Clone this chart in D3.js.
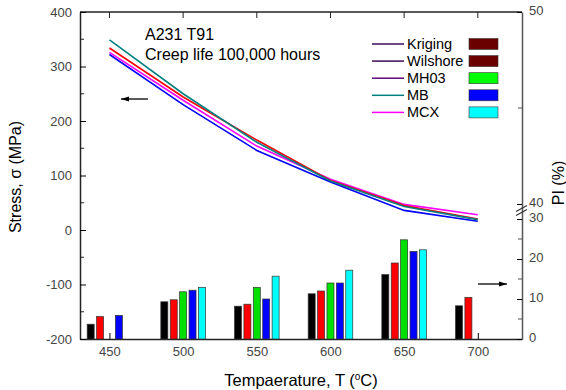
<!DOCTYPE html>
<html>
<head>
<meta charset="utf-8">
<script src="https://cdn.jsdelivr.net/npm/d3@7"></script>
<style>
  body { margin: 0; background: #fff; }
  svg { font-family: "Liberation Sans", Arial, sans-serif; }
  .tick text { fill: #444; font-size: 13px; }
</style>
</head>
<body>
<svg id="chart" width="566" height="390"></svg>
<script>
// temperatures (deg C)
const temps = [450, 500, 550, 600, 650, 700];

// stress lines, MPa (left axis)
const stressTeal = [349, 250, 161, 90, 43, 19];
const stressRed = [334, 244, 165, 91, 45, 20];
const stressMagenta = [326, 238, 154, 93, 47, 28];
const stressBlue = [322, 230, 146, 88, 36, 16];

// PI bars, % (right axis); null = no bar
const piBlack = [3.7, 9.3, 8.2, 11.3, 16.1, 8.3];
const piRed = [5.6, 9.8, 8.7, 12.0, 19.0, 10.4];
const piGreen = [null, 11.8, 12.9, 14.0, 24.8, null];
const piBlue = [5.9, 12.2, 10.0, 14.0, 21.9, null];
const piCyan = [null, 12.9, 15.7, 17.2, 22.3, null];

const legendNames = ["Kriging", "Wilshore", "MH03", "MB", "MCX"];
const legendLineColors = ["#3c0a5a", "#3c0a5a", "#5a0a78", "#008080", "#ff00ff"];
const legendFillColors = ["#6b0000", "#6b0000", "#00ff00", "#0000ff", "#00ffff"];

const leftTicks = [-200, -100, 0, 100, 200, 300, 400];
const rightTicks = [0, 10, 20, 30, 40, 50];

const svg = d3.select("#chart");

const x = d3.scaleLinear().domain([430, 730]).range([80, 522]);
const yL = d3.scaleLinear().domain([-200, 400]).range([339, 12]);
// broken right axis: 0-30 then 40-50
const yR = d3.scaleLinear().domain([0, 30, 40, 50]).range([339, 219, 204, 12]);

// frame
svg.append("line").attr("x1", 80).attr("x2", 522).attr("y1", 12).attr("y2", 12)
    .attr("stroke", "#222").attr("stroke-width", 1.5);

// bottom axis
const gx = svg.append("g")
    .attr("transform", "translate(0," + yL.range()[0] + ")")
    .call(d3.axisBottom(x).tickValues(temps).tickSize(-6).tickPadding(8).tickSizeOuter(0));
gx.select(".domain").attr("stroke", "#222").attr("stroke-width", 1.5);

// top ticks
svg.append("g").selectAll("line").data(temps).enter().append("line")
    .attr("x1", d => x(d)).attr("x2", d => x(d))
    .attr("y1", 12).attr("y2", 18).attr("stroke", "#222");

// left axis (plain hyphen for negatives, like the original)
const gl = svg.append("g")
    .attr("transform", "translate(80,0)")
    .call(d3.axisLeft(yL).tickValues(leftTicks).tickFormat(d => String(d))
        .tickSize(-6).tickPadding(8).tickSizeOuter(0));
gl.select(".domain").attr("stroke", "#222").attr("stroke-width", 1.5);
svg.append("g").selectAll("line").data(d3.range(-150, 400, 100)).enter().append("line")
    .attr("x1", 80).attr("x2", 84).attr("y1", d => yL(d)).attr("y2", d => yL(d))
    .attr("stroke", "#222");

// right axis
const gr = svg.append("g")
    .attr("transform", "translate(522,0)")
    .call(d3.axisRight(yR).tickValues(rightTicks).tickSize(-5).tickPadding(7).tickSizeOuter(0));
gr.select(".domain").attr("stroke", "#555").attr("stroke-width", 1.5);
gr.selectAll(".tick text").attr("dy", "0.2em");
svg.append("g").selectAll("line").data([5, 15, 25, 45]).enter().append("line")
    .attr("x1", 518).attr("x2", 522).attr("y1", d => yR(d)).attr("y2", d => yR(d))
    .attr("stroke", "#555");
// break marks
[0, 4].forEach(function (o) {
    svg.append("line")
        .attr("x1", 516).attr("x2", 527)
        .attr("y1", yR(37) + o + 3).attr("y2", yR(37) + o - 3)
        .attr("stroke", "#333").attr("stroke-width", 1.2);
});

// bars
const barSeries = [
    {vals: piBlack, color: "#000000"},
    {vals: piRed, color: "#ff0000"},
    {vals: piGreen, color: "#00e000"},
    {vals: piBlue, color: "#0000ff"},
    {vals: piCyan, color: "#00ffff"}
];
const pitch = 9.4, bw = 7;
barSeries.forEach(function (s, i) {
    svg.append("g").selectAll("rect")
        .data(temps.map((t, j) => ({t: t, v: s.vals[j]})).filter(d => d.v != null))
        .enter().append("rect")
        .attr("x", d => x(d.t) + (i - 2) * pitch - bw / 2)
        .attr("y", d => yR(d.v))
        .attr("width", bw)
        .attr("height", d => yR(0) - yR(d.v))
        .attr("fill", s.color)
        .attr("stroke", "#333")
        .attr("stroke-width", 0.7);
});

// stress lines
const line = d3.line().x((d, i) => x(temps[i])).y(d => yL(d));
const lineSeries = [
    {vals: stressBlue, color: "#0000ff"},
    {vals: stressMagenta, color: "#ff00ff"},
    {vals: stressRed, color: "#ff0000"},
    {vals: stressTeal, color: "#008080"}
];
lineSeries.forEach(function (s) {
    svg.append("path").datum(s.vals)
        .attr("d", line)
        .attr("fill", "none")
        .attr("stroke", s.color)
        .attr("stroke-width", 1.6);
});

// arrows
function arrow(x1, x2, y) {
    svg.append("line").attr("x1", x1).attr("x2", x2).attr("y1", y).attr("y2", y)
        .attr("stroke", "#000").attr("stroke-width", 1.3);
    const d = x2 > x1 ? -1 : 1;
    svg.append("path")
        .attr("d", "M" + x2 + "," + y + "L" + (x2 + d * 8) + "," + (y - 2.5) + "L" + (x2 + d * 8) + "," + (y + 2.5) + "Z")
        .attr("fill", "#000");
}
arrow(148, 121, 99);
arrow(478, 507, 284);

// annotation
svg.append("text").attr("x", 145).attr("y", 40).attr("font-size", 16).text("A231 T91");
svg.append("text").attr("x", 145).attr("y", 60).attr("font-size", 16).text("Creep life 100,000 hours");

// legend
const lg = svg.append("g");
legendNames.forEach(function (n, i) {
    const yy = 44 + i * 17.1;
    lg.append("line").attr("x1", 372).attr("x2", 404).attr("y1", yy).attr("y2", yy)
        .attr("stroke", legendLineColors[i]).attr("stroke-width", 1.5);
    lg.append("text").attr("x", 407).attr("y", yy + 5).attr("font-size", 14.5).text(n);
    lg.append("rect").attr("x", 469).attr("y", yy - 5.5).attr("width", 29).attr("height", 11)
        .attr("fill", legendFillColors[i]).attr("stroke", "#333").attr("stroke-width", 0.6);
});

// axis titles
svg.append("text")
    .attr("transform", "translate(21,177) rotate(-90)")
    .attr("text-anchor", "middle").attr("font-size", 16)
    .text("Stress, σ (MPa)");
svg.append("text")
    .attr("transform", "translate(564,183) rotate(-90)")
    .attr("text-anchor", "middle").attr("font-size", 16)
    .text("PI (%)");
const xt = svg.append("text")
    .attr("x", 301).attr("y", 386)
    .attr("text-anchor", "middle").attr("font-size", 16.5);
xt.append("tspan").text("Tempaerature, T (");
xt.append("tspan").attr("dy", -6).attr("font-size", 10).text("o");
xt.append("tspan").attr("dy", 6).text("C)");
</script>
</body>
</html>
